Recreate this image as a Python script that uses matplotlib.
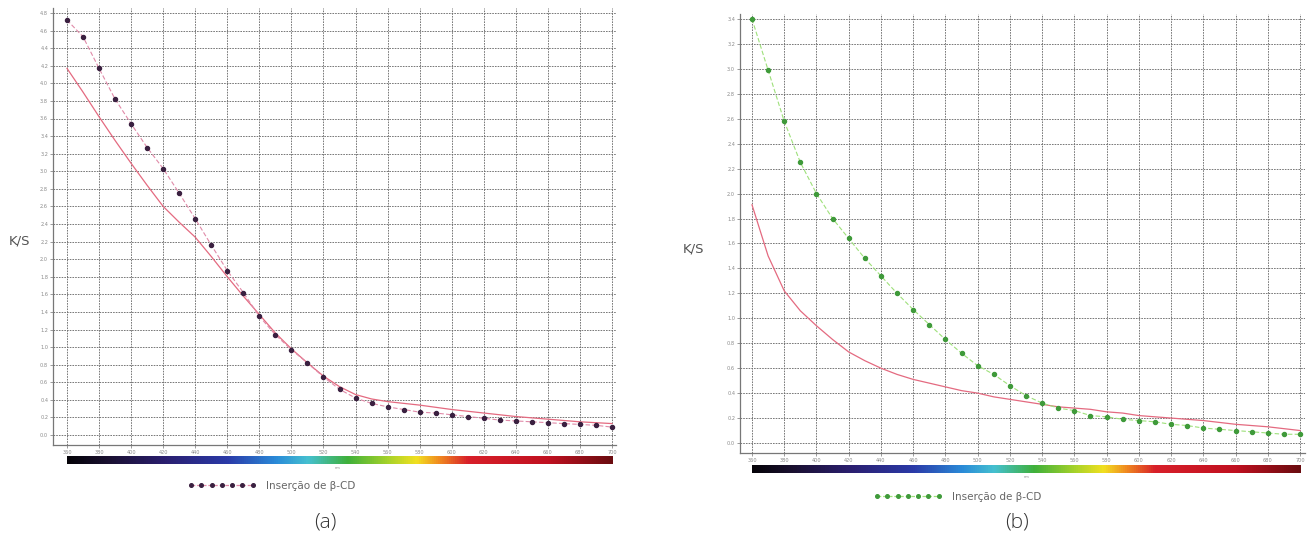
import numpy as np
import matplotlib
matplotlib.use("Agg")
import matplotlib.pyplot as plt
from matplotlib.colors import LinearSegmentedColormap
from matplotlib.lines import Line2D

# ---------------- data ----------------
wl_points = [360, 370, 380, 390, 400, 410, 420, 430, 440, 450, 460, 470, 480, 490,
             500, 510, 520, 530, 540, 550, 560, 570, 580, 590, 600, 610, 620, 630,
             640, 650, 660, 670, 680, 690, 700]

a_beta = [4.72, 4.53, 4.17, 3.82, 3.54, 3.27, 3.03, 2.75, 2.46, 2.16, 1.87, 1.62, 1.35, 1.14,
          0.97, 0.82, 0.66, 0.52, 0.42, 0.36, 0.32, 0.29, 0.26, 0.25, 0.23, 0.21, 0.19, 0.17,
          0.16, 0.15, 0.14, 0.13, 0.12, 0.11, 0.09]
a_ref_wl = [360, 370, 380, 390, 400, 410, 420, 430, 440, 450, 460, 470, 480, 490, 500,
            510, 520, 530, 540, 550, 560, 570, 580, 600, 620, 640, 660, 680, 700]
a_ref = [4.17, 3.90, 3.62, 3.35, 3.09, 2.84, 2.60, 2.42, 2.25, 2.03, 1.80, 1.58, 1.37, 1.16, 0.98,
         0.82, 0.67, 0.55, 0.46, 0.41, 0.38, 0.36, 0.34, 0.29, 0.25, 0.21, 0.18, 0.15, 0.13]

b_beta = [3.40, 2.99, 2.58, 2.25, 2.00, 1.80, 1.64, 1.48, 1.34, 1.20, 1.07, 0.95, 0.83, 0.72,
          0.62, 0.55, 0.46, 0.38, 0.32, 0.28, 0.26, 0.22, 0.21, 0.19, 0.18, 0.17, 0.15, 0.14,
          0.12, 0.11, 0.10, 0.09, 0.08, 0.07, 0.07]
b_ref_wl = [360, 370, 380, 390, 400, 410, 420, 430, 440, 450, 460, 470, 480, 490, 500,
            510, 520, 530, 540, 550, 560, 570, 580, 590, 600, 620, 640, 660, 680, 700]
b_ref = [1.91, 1.50, 1.22, 1.06, 0.94, 0.83, 0.73, 0.66, 0.60, 0.55, 0.51, 0.48, 0.45, 0.42, 0.40,
         0.37, 0.35, 0.33, 0.31, 0.29, 0.28, 0.27, 0.25, 0.24, 0.22, 0.20, 0.18, 0.15, 0.13, 0.10]

x_ticks = list(range(360, 701, 20))
a_yticks = [round(0.2 * i, 1) for i in range(25)]
b_yticks = [round(0.2 * i, 1) for i in range(18)]
legend_label = "Inserção de β-CD"
panel_labels = ["(a)", "(b)"]
y_label = "K/S"
x_unit = "nm"

spec_wl = [360, 385, 420, 460, 490, 510, 535, 560, 578, 592, 610, 660, 700]
spec_col = ["#050308", "#1a1030", "#2a1e6e", "#2b3aa8", "#2a8ad8", "#45c0d0", "#3fb03a",
            "#a6d22a", "#f2e020", "#f08a20", "#d8202a", "#c01020", "#6a0c10"]

# ---------------- layout ----------------
W, H = 1310, 539
fig = plt.figure(figsize=(W / 100, H / 100), dpi=100)
fig.patch.set_facecolor("white")


def rect(x0, y0, x1, y1):
    return [x0 / W, 1 - y1 / H, (x1 - x0) / W, (y1 - y0) / H]


spec_cmap = LinearSegmentedColormap.from_list(
    "spec", [((w - 360) / 340, c) for w, c in zip(spec_wl, spec_col)])


def panel(ax_px, xlim, ylim, yticks, beta, ref_wl, ref, dot_col, line_col,
          bar_px, ks_pos, leg_pos, lab_pos, nm_pos, label):
    ax = fig.add_axes(rect(*ax_px))
    ax.set_xlim(*xlim)
    ax.set_ylim(*ylim)
    ax.set_xticks(x_ticks)
    ax.set_yticks(yticks)
    ax.set_yticklabels([f"{v:.1f}" for v in yticks])
    ax.tick_params(labelsize=3.6, colors="#8a8a8a", length=2, width=0.6, pad=1.5)
    for s in ["top", "right"]:
        ax.spines[s].set_visible(False)
    for s in ["left", "bottom"]:
        ax.spines[s].set_color("#777777")
        ax.spines[s].set_linewidth(0.9)
    ax.grid(True, color="#6e6e6e", linestyle=(0, (1.8, 1.2)), linewidth=0.65)
    ax.set_axisbelow(True)
    ax.plot(ref_wl, ref, color="#e46a80", lw=0.9, zorder=3)
    ax.plot(wl_points, beta, color=line_col, lw=0.8, ls=(0, (4, 2)), zorder=4,
            marker="o", markersize=2.9, markerfacecolor=dot_col,
            markeredgecolor=dot_col)

    # spectrum bar
    bax = fig.add_axes(rect(*bar_px))
    grad = np.linspace(0, 1, 512).reshape(1, -1)
    bax.imshow(grad, aspect="auto", cmap=spec_cmap, extent=[360, 700, 0, 1])
    bax.set_axis_off()

    fig.text(ks_pos[0] / W, 1 - ks_pos[1] / H, y_label, fontsize=9.5,
             color="#555555", ha="left", va="center")
    fig.text(nm_pos[0] / W, 1 - nm_pos[1] / H, x_unit, fontsize=2.5,
             color="#888888", ha="center", va="center")
    handle = Line2D([], [], color=line_col, lw=0.9, ls=(0, (3, 1.5)), marker="o",
                    markersize=2.6, markerfacecolor=dot_col, markeredgecolor=dot_col)
    fig.legend(handles=[handle], labels=[legend_label], loc="center left",
               bbox_to_anchor=(leg_pos[0] / W, 1 - leg_pos[1] / H), frameon=False,
               fontsize=7.5, handlelength=6.5, numpoints=7, handletextpad=1.0,
               borderpad=0, borderaxespad=0, labelcolor="#666666")
    fig.text(lab_pos[0] / W, 1 - lab_pos[1] / H, label, fontsize=15,
             color="#333333", ha="center", va="center", family="Open Sans",
             fontweight="light")
    return ax


# panel (a): 360 nm at x=67 px, 700 nm at 612 px; 0 at y=435, 4.8 at y=13
ppn_a = (612 - 67) / 340
ppu_a = (435 - 13) / 4.8
panel((53, 8, 616, 445),
      (360 - 14 / ppn_a, 700 + 4 / ppn_a),
      (-10 / ppu_a, 4.8 + 5 / ppu_a),
      a_yticks, a_beta, a_ref_wl, a_ref, "#3a2040", "#e08aa8",
      (67, 456, 613, 464), (9, 241), (188, 486), (325, 522), (338, 468),
      panel_labels[0])

# panel (b): 360 nm at x=752 px, 700 nm at 1300 px; 0 at y=443, 3.4 at y=19
ppn_b = (1300 - 752) / 340
ppu_b = (443 - 19) / 3.4
panel((740, 14, 1305, 453),
      (360 - 12 / ppn_b, 700 + 5 / ppn_b),
      (-10 / ppu_b, 3.4 + 5 / ppu_b),
      b_yticks, b_beta, b_ref_wl, b_ref, "#3f9a3a", "#9ee07a",
      (752, 465, 1300, 473), (683, 249), (874, 497), (1017, 522), (1027, 477),
      panel_labels[1])

fig.savefig("out.png", dpi=100, facecolor="white")
